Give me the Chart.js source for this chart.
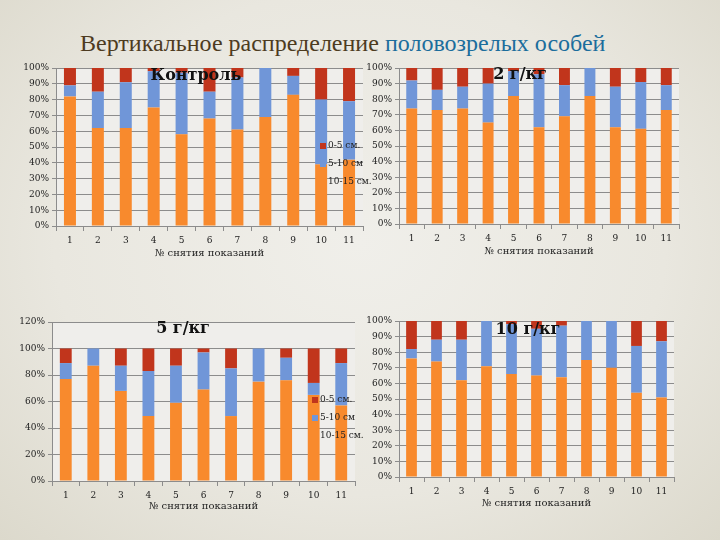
<!DOCTYPE html>
<html>
<head>
<meta charset="utf-8">
<script src="https://cdn.jsdelivr.net/npm/chart.js@4"></script>
<style>
html, body { margin: 0; padding: 0; }
body {
    width: 720px; height: 540px; position: relative; overflow: hidden;
    background: radial-gradient(ellipse at 50% 45%, #f0efea 0%, #e9e7df 60%, #dcd9cc 100%);
}
h1 {
    position: absolute; left: 80px; top: 30px; margin: 0;
    font: normal 24px "Liberation Serif", serif; color: #4d3b1f; white-space: nowrap;
}
h1 span { color: #1b6d9c; }
.box { position: absolute; }
</style>
</head>
<body>
<h1>Вертикальное распределение <span>половозрелых особей</span></h1>
<div class="box" style="left:10px;top:58px;width:362px;height:210px"><canvas id="c1"></canvas></div>
<div class="box" style="left:352px;top:58px;width:340px;height:210px"><canvas id="c2"></canvas></div>
<div class="box" style="left:10px;top:312px;width:360px;height:215px"><canvas id="c3"></canvas></div>
<div class="box" style="left:352px;top:311px;width:340px;height:215px"><canvas id="c4"></canvas></div>
<script>
const categories = ['1', '2', '3', '4', '5', '6', '7', '8', '9', '10', '11'];
const layerLabels = ['10-15 см.', '5-10 см', '0-5 см.'];
const layerColors = ['#F88A2D', '#7096D8', '#C1351C'];
const xTitle = '№ снятия показаний';

// Контроль
const control_10_15 = [82, 62, 62, 75, 58, 68, 61, 69, 83, 39, 42];
const control_5_10  = [7, 23, 29, 23, 39, 17, 33, 31, 12, 41, 37];
const control_0_5   = [11, 15, 9, 2, 3, 15, 6, 0, 5, 20, 21];

// 2 г/кг
const dose2_10_15 = [74, 73, 74, 65, 82, 62, 69, 82, 62, 61, 73];
const dose2_5_10  = [18, 13, 14, 25, 16, 34, 20, 18, 26, 30, 16];
const dose2_0_5   = [8, 14, 12, 10, 2, 4, 11, 0, 12, 9, 11];

// 5 г/кг
const dose5_10_15 = [77, 87, 68, 49, 59, 69, 49, 75, 76, 65, 57];
const dose5_5_10  = [12, 13, 19, 34, 28, 28, 36, 25, 17, 9, 32];
const dose5_0_5   = [11, 0, 13, 17, 13, 3, 15, 0, 7, 26, 11];

// 10 г/кг
const dose10_10_15 = [76, 74, 62, 71, 66, 65, 64, 75, 70, 54, 51];
const dose10_5_10  = [6, 14, 26, 29, 32, 30, 33, 25, 30, 30, 36];
const dose10_0_5   = [18, 12, 12, 0, 2, 5, 3, 0, 0, 16, 13];

const tickFont = { family: 'DejaVu Serif', size: 9 };
const gridGray = '#8c8c8c';

// plot background + title/legend drawn over the bars
const overlayPlugin = {
    id: 'overlay',
    beforeDraw(chart) {
        const a = chart.chartArea, ctx = chart.ctx;
        ctx.save();
        ctx.fillStyle = '#efeeeb';
        ctx.fillRect(a.left, a.top, a.right - a.left, a.bottom - a.top);
        ctx.restore();
    },
    afterDatasetsDraw(chart, args, opts) {
        const a = chart.chartArea, ctx = chart.ctx;
        ctx.save();
        ctx.fillStyle = '#111';
        ctx.font = 'bold 16px "DejaVu Serif"';
        ctx.textAlign = 'center';
        ctx.textBaseline = 'middle';
        ctx.fillText(opts.title, a.left + opts.tx, a.top + opts.ty);
        if (opts.legend) {
            ctx.font = '9px "DejaVu Serif"';
            ctx.textAlign = 'left';
            const sets = chart.data.datasets.slice().reverse();
            sets.forEach((ds, i) => {
                const x = a.right + opts.lx, y = a.top + opts.ly + i * 18;
                ctx.fillStyle = ds.backgroundColor;
                ctx.fillRect(x - 3, y - 3, 6, 6);
                ctx.fillStyle = '#222';
                ctx.fillText(ds.label, x + 5, y);
            });
        }
        ctx.restore();
    }
};

function makeChart(id, title, low, mid, top, cfg) {
    new Chart(document.getElementById(id), {
        type: 'bar',
        data: {
            labels: categories,
            datasets: [
                { label: layerLabels[0], data: low, backgroundColor: layerColors[0] },
                { label: layerLabels[1], data: mid, backgroundColor: layerColors[1] },
                { label: layerLabels[2], data: top, backgroundColor: layerColors[2] }
            ]
        },
        options: {
            responsive: true,
            maintainAspectRatio: false,
            animation: false,
            layout: { padding: { top: 10, right: cfg.padRight, left: 0, bottom: 0 } },
            datasets: { bar: { categoryPercentage: 1, barPercentage: 0.43, borderWidth: 0 } },
            plugins: {
                legend: { display: false },
                tooltip: { enabled: false },
                overlay: { title: title, tx: cfg.tx, ty: cfg.ty, legend: cfg.legend, lx: -40, ly: 78 }
            },
            scales: {
                x: {
                    stacked: true,
                    afterFit: s => { s.height = cfg.xHeight; },
                    grid: { offset: true, drawOnChartArea: false, tickLength: 5, color: gridGray },
                    border: { color: gridGray },
                    ticks: { font: tickFont, color: '#222', padding: 4, maxRotation: 0 },
                    title: {
                        display: true, text: xTitle, color: '#222',
                        font: { family: 'DejaVu Serif', size: 10 },
                        padding: { top: 0, bottom: cfg.titlePad }
                    }
                },
                y: {
                    stacked: true,
                    min: 0,
                    max: cfg.yMax,
                    afterFit: s => { s.width = cfg.yWidth; },
                    grid: { color: gridGray, tickLength: 4 },
                    border: { color: gridGray },
                    ticks: {
                        stepSize: cfg.yStep, font: tickFont, color: '#222', padding: 3,
                        callback: v => v + '%'
                    }
                }
            }
        },
        plugins: [overlayPlugin]
    });
}

document.addEventListener('DOMContentLoaded', function () {
    makeChart('c1', 'Контроль', control_10_15, control_5_10, control_0_5,
        { padRight: 9, yWidth: 46, xHeight: 42, titlePad: 9, yMax: 100, yStep: 10, tx: 140, ty: 8, legend: true });
    makeChart('c2', '2 г/кг', dose2_10_15, dose2_5_10, dose2_0_5,
        { padRight: 13, yWidth: 47, xHeight: 44, titlePad: 11, yMax: 100, yStep: 10, tx: 121, ty: 7, legend: false });
    makeChart('c3', '5 г/кг', dose5_10_15, dose5_5_10, dose5_0_5,
        { padRight: 15, yWidth: 42, xHeight: 46, titlePad: 15, yMax: 120, yStep: 20, tx: 131, ty: 7, legend: true });
    makeChart('c4', '10 г/кг', dose10_10_15, dose10_5_10, dose10_0_5,
        { padRight: 18, yWidth: 47, xHeight: 49, titlePad: 17, yMax: 100, yStep: 10, tx: 129, ty: 9, legend: false });
});
</script>
</body>
</html>
